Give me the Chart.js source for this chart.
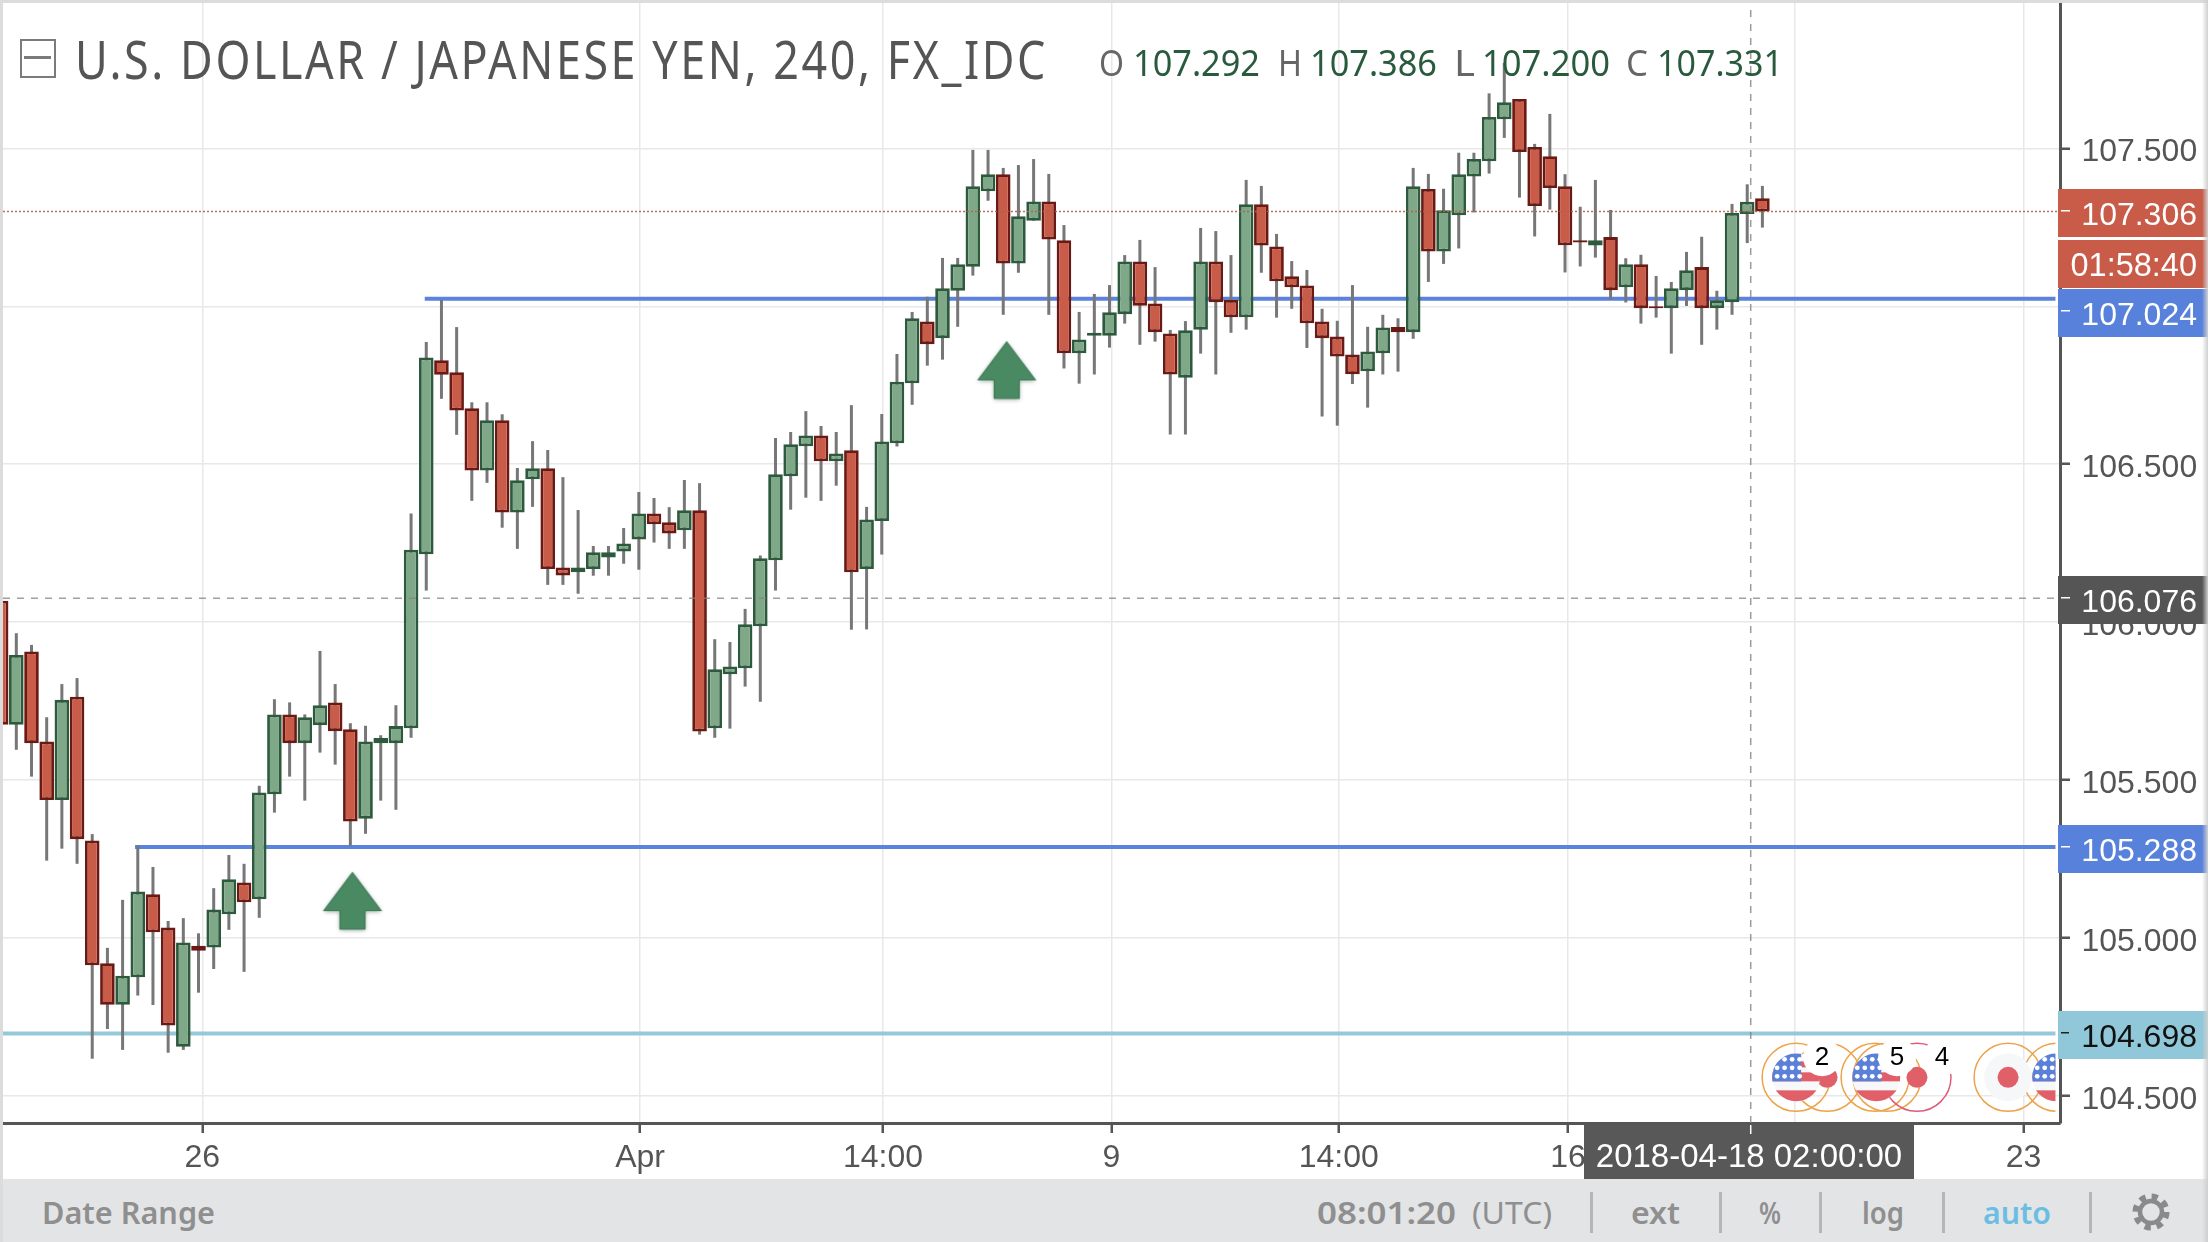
<!DOCTYPE html>
<html><head><meta charset="utf-8"><title>USD/JPY</title>
<script src="https://cdn.jsdelivr.net/npm/chart.js@4"></script>
<style>
html,body{margin:0;padding:0;background:#fff;overflow:hidden}
#wrap{position:relative;width:2208px;height:1242px;overflow:hidden}
canvas{position:absolute;left:0;top:0}
.o{position:absolute;white-space:nowrap;transform-origin:left center;line-height:1;font-family:"Noto Sans",sans-serif}
.b{position:absolute}
</style></head><body>
<div id="wrap"><canvas id="c" width="2208" height="1242"></canvas></div>
<script>
// ---- candle data (U.S. Dollar / Japanese Yen, 240 min) ----
const opens=[106.068,105.675,105.907,105.622,105.437,105.764,105.309,104.920,104.789,104.876,
105.139,105.033,104.656,104.976,104.970,105.075,105.176,105.123,105.455,105.708,
105.617,105.674,105.746,105.661,105.378,105.617,105.617,105.664,106.215,106.829,
106.791,106.677,106.480,106.639,106.347,106.452,106.487,106.173,106.158,106.168,
106.205,106.224,106.262,106.344,106.316,106.291,106.354,105.664,105.835,105.854,
105.987,106.196,106.462,106.557,106.591,106.509,106.544,106.168,106.320,106.566,
106.756,106.952,106.899,107.049,107.125,107.364,107.418,107.135,107.271,107.332,
107.209,106.851,106.907,106.907,106.975,107.142,107.009,106.914,106.774,106.926,
107.142,107.020,106.965,107.323,107.189,107.095,107.066,106.952,106.904,106.847,
106.794,106.851,106.934,106.918,107.371,107.173,107.288,107.411,107.459,107.592,
107.656,107.504,107.475,107.380,107.209,107.192,107.219,107.060,107.133,107.000,
106.994,107.051,107.124,106.994,107.013,107.292,107.342];
const highs=[106.076,105.965,105.928,105.699,105.804,105.823,105.329,104.969,105.121,105.292,
105.225,105.054,105.063,105.015,105.158,105.263,105.235,105.482,105.756,105.746,
105.708,105.909,105.804,105.680,105.672,105.642,105.737,106.344,106.887,107.020,
106.934,106.696,106.696,106.658,106.488,106.573,106.545,106.459,106.355,106.241,
106.241,106.298,106.412,106.393,106.364,106.450,106.440,105.946,105.937,106.042,
106.211,106.583,106.602,106.668,106.621,106.602,106.687,106.365,106.659,106.849,
106.982,107.030,107.153,107.153,107.495,107.495,107.438,107.447,107.466,107.419,
107.257,106.982,107.039,107.067,107.162,107.210,107.124,106.925,106.953,107.248,
107.238,107.162,107.400,107.381,107.229,107.143,107.115,106.992,106.954,107.067,
106.935,106.973,106.962,107.438,107.419,107.372,107.486,107.486,107.674,107.770,
107.656,107.514,107.609,107.418,107.315,107.400,107.305,107.152,107.163,107.096,
107.077,107.172,107.220,107.049,107.324,107.386,107.381];
const lows=[105.640,105.596,105.511,105.245,105.283,105.235,104.618,104.712,104.646,104.818,
104.788,104.637,104.646,104.827,104.902,105.026,104.893,105.064,105.397,105.511,
105.435,105.587,105.549,105.292,105.330,105.435,105.406,105.634,106.100,106.707,
106.593,106.384,106.441,106.299,106.232,106.365,106.118,106.118,106.090,106.147,
106.147,106.185,106.166,106.252,106.232,106.232,105.644,105.634,105.663,105.796,
105.748,106.100,106.356,106.394,106.384,106.432,105.976,105.977,106.214,106.556,
106.688,106.812,106.831,106.935,107.097,107.334,106.973,107.106,107.271,106.973,
106.803,106.755,106.784,106.869,106.945,106.878,106.888,106.594,106.594,106.850,
106.784,106.916,106.926,107.106,106.964,106.992,106.868,106.651,106.622,106.754,
106.679,106.784,106.793,106.897,107.077,107.134,107.183,107.297,107.420,107.533,
107.344,107.221,107.306,107.107,107.126,107.154,107.021,107.012,106.945,106.964,
106.850,107.001,106.878,106.926,106.973,107.200,107.249];
const closes=[105.675,105.896,105.617,105.437,105.754,105.313,104.914,104.789,104.881,105.147,
105.018,104.723,104.986,104.960,105.090,105.186,105.113,105.461,105.708,105.617,
105.699,105.737,105.655,105.369,105.622,105.633,105.671,106.229,106.838,106.783,
106.670,106.480,106.639,106.347,106.449,106.487,106.168,106.148,106.173,106.221,
106.221,106.249,106.344,106.310,106.281,106.354,105.654,105.851,105.860,105.993,
106.202,106.468,106.563,106.591,106.509,106.534,106.158,106.325,106.572,106.761,
106.962,106.880,107.057,107.133,107.380,107.418,107.135,107.285,107.332,107.211,
106.851,106.895,106.916,106.981,107.142,107.002,106.918,106.784,106.924,107.142,
107.013,106.965,107.323,107.192,107.079,107.060,106.946,106.899,106.841,106.785,
106.857,106.933,106.918,107.380,107.173,107.304,107.418,107.466,107.599,107.646,
107.488,107.317,107.374,107.193,107.202,107.209,107.051,107.133,106.994,106.994,
107.057,107.114,106.994,107.019,107.295,107.331,107.300];

// ---- axes ----
const yTicks=[107.5,107,106.5,106,105.5,105,104.5];
const xTickPositions=[13.25,42.08,58.08,73.12,88.1,103.2,118.15,133.2];
const xTickLabels=['26','Apr','14:00','9','14:00','16','14:00','23'];
const xMin=0.123, xMax=135.6, yMin=104.4145, yMax=107.96;

// ---- horizontal levels ----
const levelValues=[107.024,105.288,104.698];
const levelStarts=[27.9,8.82,0.12];
const levelColors=['#5b82dc','#5b82dc','#93c9d8'];
const levelEnd=135.3;
const lastPrice=107.300, crosshairPrice=106.076, crosshairIndex=115.23;

// ---- arrows ----
const arrowIndex=[23.14,66.23];
const arrowValues=[105.117,106.797];

// ---- price tags on the axis ----
const tagValues=[107.300,107.024,106.076,105.288,104.698];
const tagLabels=['107.306','107.024','106.076','105.288','104.698'];
const tagFill=['#c95b49','#5881dc','#555555','#5881dc','#90c8da'];
const tagText=['#ffffff','#ffffff','#ffffff','#ffffff','#111111'];
const tagShift=[2,14,2,2,2];
const countdownLabel='01:58:40';

// ---- event markers ----
const eventLevel=104.559, countLevel=104.623;
const ringIndex=[118.22,120.26,123.42,124.21,126.18,132.18,135.4];
const ringColors=['#eda349','#eda349','#eda349','#eda349','#df5a78','#eda349','#eda349'];
const flagIndex=[120.26,126.18,118.22,123.5,132.18,135.35];
const flagKinds=['jp','jp','us','us','jph','us'];
const countIndex=[119.93,124.87,127.83];
const countLabels=['2','5','4'];

const UP='#7fa888',UPB='#2d5a3d',DN='#c95b49',DNB='#691a14';
const idx=opens.map((_,i)=>i);
const isUp=i=>closes[i]>=opens[i];

function arrowCanvas(){
  const c=document.createElement('canvas');c.width=80;c.height=80;
  const g=c.getContext('2d');g.translate(40,40);
  g.shadowColor='rgba(60,90,70,.55)';g.shadowBlur=4;g.shadowOffsetY=1;
  g.beginPath();g.moveTo(0,-28.5);g.lineTo(28.5,9.5);g.lineTo(12.5,9.5);g.lineTo(12.5,28);g.lineTo(-12.5,28);g.lineTo(-12.5,9.5);g.lineTo(-28.5,9.5);g.closePath();
  g.fillStyle='#4a8a63';g.fill();
  g.shadowBlur=0;g.shadowOffsetY=0;g.strokeStyle='#3f7a57';g.lineWidth=1.2;g.stroke();
  return c;
}
const arrowStyle=arrowCanvas();
const pairLine=(x0,x1,y0,y1)=>[{x:x0,y:y0},{x:x1,y:y1}];
const noPad=s=>{s.paddingLeft=s.paddingRight=s.paddingTop=s.paddingBottom=0;};

const datasets=[
 ...levelValues.map((v,i)=>({type:'line',label:'level '+v,data:pairLine(levelStarts[i],levelEnd,v,v),borderColor:levelColors[i],borderWidth:4,pointRadius:0,order:6})),
 {type:'bar',label:'wick',data:idx.map(i=>({x:i,y:[lows[i],highs[i]]})),backgroundColor:'#777777',borderWidth:0,barThickness:3,grouped:false,inflateAmount:0,order:4},
 {type:'bar',label:'body',data:idx.map(i=>({x:i,y:[opens[i],closes[i]]})),
  backgroundColor:idx.map(i=>isUp(i)?UP:DN),borderColor:idx.map(i=>isUp(i)?UPB:DNB),borderWidth:2.8,borderSkipped:false,barThickness:14.6,grouped:false,inflateAmount:0,order:3},
 {type:'line',label:'arrows',data:arrowIndex.map((x,i)=>({x,y:arrowValues[i]})),showLine:false,pointStyle:arrowStyle,pointRadius:30,order:2},
 {type:'line',label:'last',data:pairLine(xMin,xMax,lastPrice,lastPrice),borderColor:'rgba(176,96,72,.9)',borderWidth:1.5,borderDash:[2,2],pointRadius:0,order:1},
 {type:'line',label:'cross h',data:pairLine(xMin,xMax,crosshairPrice,crosshairPrice),borderColor:'rgba(130,130,130,.75)',borderWidth:1.5,borderDash:[7,7],pointRadius:0,order:1},
 {type:'line',label:'cross v',data:pairLine(crosshairIndex,crosshairIndex,yMin,yMax),borderColor:'rgba(130,130,130,.8)',borderWidth:1.5,borderDash:[7,7],pointRadius:0,order:1}
];

function usFlag(g,cx,cy){
  const r=24;g.save();g.beginPath();g.arc(cx,cy,r,0,Math.PI*2);g.clip();
  g.fillStyle='#f7f8fa';g.fillRect(cx-r,cy-r,2*r,2*r);
  g.fillStyle='#e05f68';
  g.fillRect(cx-r,cy-16,2*r,6);g.fillRect(cx-r,cy-5,2*r,9);g.fillRect(cx-r,cy+13,2*r,12);
  g.fillStyle='#5a80d8';g.fillRect(cx-r,cy-r,r+5,r+4);
  g.fillStyle='#fff';
  for(let a=0;a<3;a++)for(let b=0;b<4;b++){g.beginPath();g.arc(cx-19+b*7.5,cy-18+a*8.5,2.4,0,Math.PI*2);g.fill();}
  g.restore();
}
const overlay={id:'overlay',
 afterDatasetsDraw(ch){
  const g=ch.ctx,X=ch.scales.x,Y=ch.scales.y,cy=Y.getPixelForValue(eventLevel),ny=Y.getPixelForValue(countLevel);
  g.save();g.beginPath();g.rect(X.left,Y.top,X.getPixelForValue(levelEnd)-X.left,Y.bottom-Y.top);g.clip();
  ringIndex.forEach((v,i)=>{const x=X.getPixelForValue(v);g.beginPath();g.arc(x,cy,34,0,Math.PI*2);g.strokeStyle=ringColors[i];g.lineWidth=1.5;g.stroke();});
  flagIndex.forEach((v,i)=>{const x=X.getPixelForValue(v),k=flagKinds[i];
    if(k==='us')usFlag(g,x,cy);
    else{if(k==='jph'){g.fillStyle='#f6f7f9';g.beginPath();g.arc(x,cy,24,0,Math.PI*2);g.fill();}
      g.fillStyle='#e05f68';g.beginPath();g.arc(x,cy,10.5,0,Math.PI*2);g.fill();}});
  countIndex.forEach((v,i)=>{const x=X.getPixelForValue(v);g.fillStyle='#fff';g.beginPath();g.arc(x,ny,19,0,Math.PI*2);g.fill();
    g.fillStyle='#000';g.font='26px "Liberation Sans"';g.textAlign='center';g.textBaseline='middle';g.fillText(countLabels[i],x,ny+1);});
  g.restore();
 },
 afterDraw(ch){
  const g=ch.ctx,Y=ch.scales.y,X=ch.scales.x,L=2058,R=2208;
  g.save();g.font='32px "Liberation Sans"';g.textBaseline='middle';g.textAlign='right';
  tagValues.forEach((v,i)=>{const y=Y.getPixelForValue(v),c=Math.round(y+tagShift[i]);
    g.fillStyle=tagFill[i];g.fillRect(L,c-24,R-L,48);
    g.fillStyle=tagText[i];g.fillText(tagLabels[i],2197,c+3);
    g.fillStyle=i===4?'#222':'#fff';g.fillRect(2061,(i===1?c-2:Math.round(y))-1,i===4?8:9,1.5);
    if(i===0){g.fillStyle='#fff';g.fillRect(L,c+24,R-L,3);g.fillStyle=tagFill[i];g.fillRect(L,c+27,R-L,48);
      g.fillStyle='#fff';g.font='32.5px "Liberation Sans"';g.fillText(countdownLabel,2197,c+54);g.font='32px "Liberation Sans"';}
  });
  // crosshair time label
  const tx=X.getPixelForValue(crosshairIndex);
  g.fillStyle='#585858';g.fillRect(1584,1124.5,330,54.5);
  g.fillStyle='#fff';g.textAlign='center';g.font='33px "Liberation Sans"';g.fillText('2018-04-18 02:00:00',1749,1158);
  g.fillRect(tx-.75,1125,1.5,9);
  g.restore();
 }};

new Chart(document.getElementById('c'),{
 type:'bar',
 data:{datasets},
 plugins:[overlay],
 options:{responsive:false,animation:false,events:[],
  layout:{autoPadding:false,padding:{left:3,top:3,right:0,bottom:0}},
  plugins:{legend:{display:false},tooltip:{enabled:false},title:{display:false}},
  scales:{
   x:{type:'linear',position:'bottom',min:xMin,max:xMax,offset:false,
     grid:{offset:false,color:'#e8e8e8',lineWidth:1.5,tickColor:'#555555',tickWidth:2.5,tickLength:10},
     border:{display:true,color:'#555555',width:3},
     afterBuildTicks(a){a.ticks=xTickPositions.map(v=>({value:v}));},
     afterFit(s){s.height=119;noPad(s);},
     ticks:{autoSkip:false,maxRotation:0,minRotation:0,color:'#555555',padding:5.5,font:{family:'"Liberation Sans"',size:32},
       callback:(v,i)=>xTickLabels[i]}},
   y:{type:'linear',position:'right',min:yMin,max:yMax,beginAtZero:false,
     grid:{color:'#e8e8e8',lineWidth:1.5,tickColor:'#555555',tickWidth:2.5,tickLength:10},
     border:{display:true,color:'#555555',width:3},
     afterFit(s){s.width=148;noPad(s);},
     afterBuildTicks(a){a.ticks=yTicks.map(v=>({value:v}));},
     ticks:{autoSkip:false,crossAlign:'near',padding:11.5,labelOffset:4,color:'#555555',font:{family:'"Liberation Sans"',size:32},callback:v=>v.toFixed(3)}}
  }}
});

// ---- header & footer text (left, width, centreY, size, colour, weight) ----
const wrap=document.getElementById('wrap');
function txt(t,l,w,cy,s,col,wt,ls){const e=document.createElement('div');e.className='o';e.textContent=t;
  e.style.cssText+=`left:${l}px;top:${cy-s/2}px;font-size:${s}px;color:${col};font-weight:${wt||400};letter-spacing:${ls||0}px;`;wrap.appendChild(e);
  const m=e.getBoundingClientRect().width;e.style.transform=`scaleX(${w/m})`;}
function box(l,t,w,h,bg,extra){const e=document.createElement('div');e.className='b';e.style.cssText+=`left:${l}px;top:${t}px;width:${w}px;height:${h}px;background:${bg};${extra||''}`;wrap.appendChild(e);}
box(0,1179,2208,63,'#e3e4e6');
box(0,0,2208,3,'#dcdcdc');box(0,0,3,1242,'#dcdcdc');
box(2202,0,6,1242,'linear-gradient(90deg,rgba(200,200,200,0),#cfcfcf)');
box(20,39,32,35,'transparent','border:2px solid #7b7b7b;');
box(24,56,27,3,'#7b7b7b');
txt('U.S. DOLLAR / JAPANESE YEN, 240, FX_IDC',75,973,59,52,'#555555',400,3);
const ohlcLetters=['O','H','L','C'], ohlcValues=['107.292','107.386','107.200','107.331'];
const letterX=[1099,1278,1454,1626], letterW=[25,24,21,22], valueX=[1133,1310,1482,1657], valueW=[127,127,128,126];
ohlcLetters.forEach((t,i)=>{txt(t,letterX[i],letterW[i],61,37,'#666666');txt(ohlcValues[i],valueX[i],valueW[i],61,37,'#2a5a3d');});
txt('Date Range',42,173,1213,30,'#8f8f90',600);
txt('08:01:20',1317,139,1213,30,'#8f8f90',600);
txt('(UTC)',1472,80,1213,30,'#8f8f90',400);
txt('ext',1631,49,1213,30,'#8f8f90',600);
txt('%',1759,22,1213,30,'#8f8f90',600);
txt('log',1862,42,1213,30,'#8f8f90',600);
txt('auto',1983,68,1213,30,'#6cbde4',600);
[1590,1719,1819,1942,2089].forEach(x=>box(x,1192,2.5,41,'#b6b6b8'));
const gear=document.createElementNS('http://www.w3.org/2000/svg','svg');
gear.setAttribute('width','40');gear.setAttribute('height','40');gear.setAttribute('viewBox','-20 -20 40 40');
gear.style.cssText='position:absolute;left:2131px;top:1192px';
gear.innerHTML='<circle r="15.5" fill="none" stroke="#8a8a8a" stroke-width="6" stroke-dasharray="6.2 6"/><circle r="11" fill="none" stroke="#8a8a8a" stroke-width="4.5"/>';
wrap.appendChild(gear);
</script></body></html>
